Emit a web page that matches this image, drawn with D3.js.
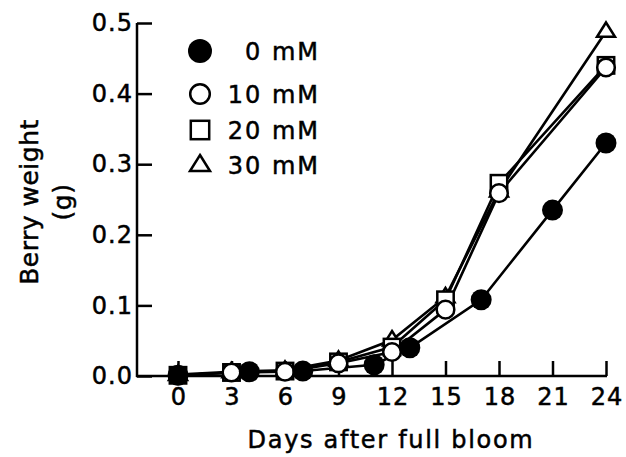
<!DOCTYPE html>
<html>
<head>
<meta charset="utf-8">
<script src="https://cdn.jsdelivr.net/npm/d3@7/dist/d3.min.js"></script>
<style>
  html, body { margin: 0; padding: 0; background: #fff; }
  svg text { font-family: "DejaVu Sans", sans-serif; fill: #000; stroke: #000; stroke-width: 0.5px; }
</style>
</head>
<body>
<svg id="chart" width="626" height="457"></svg>
<script>
// ---- data ----
const days0 = [0, 4, 7, 11, 13, 17, 21, 24];
const weight0mM = [0.001, 0.006, 0.007, 0.016, 0.040, 0.108, 0.235, 0.330];
const daysT = [0, 3, 6, 9, 12, 15, 18, 24];
const weight10mM = [0.001, 0.005, 0.006, 0.018, 0.034, 0.094, 0.259, 0.437];
const weight20mM = [0.001, 0.005, 0.007, 0.020, 0.041, 0.108, 0.273, 0.440];
const weight30mM = [0.002, 0.006, 0.008, 0.022, 0.051, 0.112, 0.262, 0.488];
const xTicks = [0, 3, 6, 9, 12, 15, 18, 21, 24];
const yTicks = [0.0, 0.1, 0.2, 0.3, 0.4, 0.5];
const legendLabels = ["0 mM", "10 mM", "20 mM", "30 mM"];

const series = [
  { name: legendLabels[0], days: days0, vals: weight0mM, shape: "filled" },
  { name: legendLabels[1], days: daysT, vals: weight10mM, shape: "circle" },
  { name: legendLabels[2], days: daysT, vals: weight20mM, shape: "square" },
  { name: legendLabels[3], days: daysT, vals: weight30mM, shape: "triangle" }
];

const svg = d3.select("#chart");
const x = d3.scaleLinear().domain([0, 24]).range([178, 606]);
const y = d3.scaleLinear().domain([0, 0.5]).range([376, 23]);
const axisX0 = 137;
const fs = 24;

// axes lines
svg.append("line").attr("x1", axisX0).attr("x2", axisX0).attr("y1", y(0.5)).attr("y2", y(0) + 1)
  .attr("stroke", "#000").attr("stroke-width", 2.5);
svg.append("line").attr("x1", axisX0 - 1).attr("x2", x(24) + 1).attr("y1", y(0)).attr("y2", y(0))
  .attr("stroke", "#000").attr("stroke-width", 2.5);

const yAxis = svg.append("g").attr("transform", `translate(${axisX0},0)`)
  .call(d3.axisLeft(y).tickValues(yTicks).tickFormat(d3.format(".1f")).tickSize(-15).tickPadding(4));
yAxis.select(".domain").remove();
yAxis.selectAll(".tick line").attr("stroke", "#000").attr("stroke-width", 2.5);
yAxis.selectAll(".tick text").attr("font-size", fs).attr("font-family", "DejaVu Sans")
  .attr("fill", "#000").attr("letter-spacing", 1);

const xAxis = svg.append("g").attr("transform", `translate(0,${y(0)})`)
  .call(d3.axisBottom(x).tickValues(xTicks).tickFormat(d3.format("d")).tickSize(-15).tickPadding(12));
xAxis.select(".domain").remove();
xAxis.selectAll(".tick line").attr("stroke", "#000").attr("stroke-width", 2.5);
xAxis.selectAll(".tick text").attr("font-size", fs).attr("font-family", "DejaVu Sans")
  .attr("fill", "#000").attr("letter-spacing", 1).attr("dx", 0.5);

// axis titles
svg.append("text").attr("x", 391).attr("y", 448).attr("text-anchor", "middle")
  .attr("font-size", fs).attr("letter-spacing", 1.7).text("Days after full bloom");
const yt = svg.append("text").attr("transform", "translate(38,202) rotate(-90)")
  .attr("text-anchor", "middle").attr("font-size", 25).attr("letter-spacing", 0.5);
yt.append("tspan").attr("x", 0).attr("dy", 0).text("Berry weight");
yt.append("tspan").attr("x", 0).attr("dy", 33).text("(g)");

// lines
const line = d3.line().x(d => x(d[0])).y(d => y(d[1]));
series.forEach(s => {
  svg.append("path").datum(s.days.map((d, i) => [d, s.vals[i]]))
    .attr("d", line).attr("fill", "none").attr("stroke", "#000").attr("stroke-width", 2.6);
});

function marker(g, shape, cx, cy, r) {
  if (shape === "filled") {
    g.append("circle").attr("cx", cx).attr("cy", cy).attr("r", r + 0.5).attr("fill", "#000");
  } else if (shape === "circle") {
    g.append("circle").attr("cx", cx).attr("cy", cy).attr("r", r - 1.2).attr("fill", "#fff")
      .attr("stroke", "#000").attr("stroke-width", 2.5);
  } else if (shape === "square") {
    const h = r - 1.8;
    g.append("rect").attr("x", cx - h).attr("y", cy - h).attr("width", 2 * h).attr("height", 2 * h)
      .attr("fill", "#fff").attr("stroke", "#000").attr("stroke-width", 2.5);
  } else {
    const h = r - 1;
    g.append("path").attr("d", `M${cx},${cy - h}L${cx + h},${cy + h * 0.6}L${cx - h},${cy + h * 0.6}Z`)
      .attr("fill", "#fff").attr("stroke", "#000").attr("stroke-width", 2.5).attr("stroke-linejoin", "miter");
  }
}

// markers (treatments first, 0 mM on top)
const order = [3, 2, 1, 0];
order.forEach(k => {
  const s = series[k];
  const g = svg.append("g");
  s.days.forEach((d, i) => marker(g, s.shape, x(d), y(s.vals[i]), 10));
});

// legend
const legY = [51, 94, 130, 165];
series.forEach((s, i) => {
  const g = svg.append("g");
  marker(g, s.shape, 200, legY[i], s.shape === "filled" ? 11.5 : 11);
  svg.append("text").attr("x", 320).attr("y", legY[i]).attr("dy", "0.36em")
    .attr("text-anchor", "end").attr("font-size", fs).attr("letter-spacing", 2).text(s.name);
});
</script>
</body>
</html>
